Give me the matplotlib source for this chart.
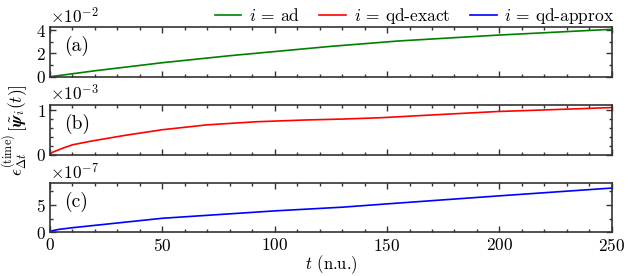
import matplotlib
matplotlib.use("Agg")
import matplotlib.pyplot as plt
from matplotlib.ticker import MultipleLocator

plt.rcParams.update({
    "font.family": "serif",
    "font.serif": ["cmr10"],
    "mathtext.fontset": "cm",
    "axes.formatter.use_mathtext": True,
    "font.size": 12.5,
    "axes.unicode_minus": False,
})

t_ad = [0, 20, 50, 80, 125, 155, 200, 250]
err_ad = [0, 0.51e-2, 1.2e-2, 1.8e-2, 2.6e-2, 3.06e-2, 3.57e-2, 4.06e-2]

t_exact = [0, 1, 3, 6, 10, 18, 33, 50, 70, 92, 114, 130, 147, 169, 199, 228, 250]
err_exact = [0, 0.05e-3, 0.09e-3, 0.15e-3, 0.22e-3, 0.30e-3, 0.43e-3, 0.56e-3,
             0.67e-3, 0.74e-3, 0.78e-3, 0.80e-3, 0.83e-3, 0.89e-3, 0.97e-3,
             1.02e-3, 1.06e-3]

t_approx = [0, 1, 4, 10, 50, 100, 130, 150, 200, 250]
err_approx = [0.05e-7, 0.3e-7, 0.55e-7, 0.85e-7, 2.56e-7, 3.9e-7, 4.57e-7,
              5.17e-7, 6.63e-7, 8.04e-7]

labels = [r"$i$ = ad", r"$i$ = qd-exact", r"$i$ = qd-approx"]
panel_tags = ["(a)", "(b)", "(c)"]
colors = ["green", "red", "blue"]

fig = plt.figure(figsize=(6.3, 2.76), dpi=100)
boxes = [(0.0794, 0.722, 0.8916, 0.179),
         (0.0794, 0.440, 0.8916, 0.180),
         (0.0794, 0.158, 0.8916, 0.179)]
ylims = [(0, 4.23e-2), (0, 1.12e-3), (0, 8.96e-7)]
ymajor = [2e-2, 1e-3, 5e-7]
yminor = [1e-2, 0.2e-3, 2.5e-7]
series = [(t_ad, err_ad), (t_exact, err_exact), (t_approx, err_approx)]

axes = []
for i, box in enumerate(boxes):
    ax = fig.add_axes(box)
    t, e = series[i]
    ax.plot(t, e, color=colors[i], lw=1.2, label=labels[i])
    ax.set_xlim(0, 250)
    ax.set_ylim(*ylims[i])
    ax.xaxis.set_major_locator(MultipleLocator(50))
    ax.xaxis.set_minor_locator(MultipleLocator(10))
    ax.yaxis.set_major_locator(MultipleLocator(ymajor[i]))
    ax.yaxis.set_minor_locator(MultipleLocator(yminor[i]))
    ax.ticklabel_format(axis="y", style="sci", scilimits=(0, 0))
    ax.tick_params(which="both", direction="in", top=True, right=True,
                   color="#333333", width=1.0)
    ax.tick_params(which="major", length=4, pad=3)
    ax.tick_params(which="minor", length=2)
    for s in ax.spines.values():
        s.set_linewidth(1.2)
        s.set_color("#333333")
    ax.text(0.025, 0.62, panel_tags[i], transform=ax.transAxes,
            ha="left", va="center", fontsize=14)
    if i < 2:
        ax.tick_params(labelbottom=False)
    axes.append(ax)

axes[2].set_xlabel(r"$t$ (n.u.)", labelpad=0, fontsize=12)
fig.text(0.024, 0.53,
         r"$\epsilon_{\Delta t}^{(\mathrm{time})}\,[\tilde{\boldsymbol{\psi}}_i(t)]$",
         rotation=90, ha="center", va="center", fontsize=12.5)

handles = [a.get_lines()[0] for a in axes]
fig.legend(handles, labels, loc="upper right", bbox_to_anchor=(1.0, 1.035),
           ncol=3, frameon=False, handlelength=1.55, columnspacing=1.1,
           handletextpad=0.45, fontsize=12.5)

fig.savefig("out.png", dpi=100)
